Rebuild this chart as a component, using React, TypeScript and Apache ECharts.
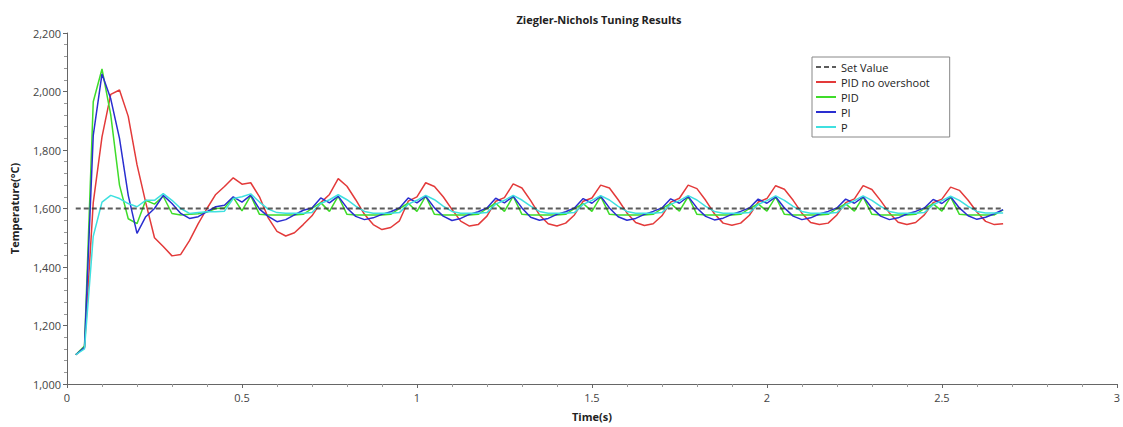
import React, { useEffect, useRef } from "react";
import * as echarts from "echarts";

const TITLE = "Ziegler-Nichols Tuning Results";
const SERIES_NAMES = ["Set Value", "PID no overshoot", "PID", "PI", "P"];
const T_START = 0.025;
const T_STEP = 0.025;

const setTimes = [0.025, 2.675];
const setValues = [1600, 1600];

const pidNoOvershoot = [
  1100, 1125, 1620, 1845, 1990, 2005, 1915, 1750, 1620, 1500,
  1470, 1438, 1443, 1490, 1548, 1600, 1648, 1675, 1705, 1683,
  1688, 1640, 1568, 1522, 1506, 1517, 1545, 1575, 1620, 1648,
  1702, 1676, 1630, 1580, 1545, 1528, 1535, 1558, 1625, 1640,
  1688, 1675, 1640, 1597, 1557, 1540, 1545, 1574, 1625, 1637,
  1684, 1670, 1627, 1578, 1548, 1540, 1550, 1578, 1625, 1636,
  1680, 1670, 1630, 1585, 1552, 1542, 1548, 1575, 1622, 1635,
  1680, 1668, 1628, 1582, 1550, 1543, 1550, 1577, 1622, 1634,
  1678, 1666, 1628, 1584, 1552, 1545, 1550, 1578, 1620, 1633,
  1678, 1665, 1627, 1585, 1553, 1545, 1552, 1578, 1620, 1632,
  1673, 1662, 1628, 1588, 1556, 1545, 1548,
];

const pid = [
  1100, 1130, 1965, 2077, 1920, 1680, 1565, 1548, 1628, 1615,
  1642, 1583, 1578, 1580, 1582, 1588, 1600, 1602, 1638, 1592,
  1644, 1580, 1578, 1578, 1578, 1578, 1580, 1600, 1620, 1590,
  1642, 1580, 1578, 1578, 1578, 1578, 1580, 1600, 1618, 1590,
  1642, 1580, 1578, 1578, 1578, 1578, 1580, 1600, 1618, 1590,
  1642, 1580, 1578, 1578, 1578, 1578, 1580, 1600, 1617, 1590,
  1641, 1580, 1578, 1578, 1578, 1578, 1580, 1600, 1617, 1591,
  1641, 1580, 1578, 1578, 1578, 1578, 1580, 1600, 1616, 1591,
  1640, 1580, 1578, 1578, 1578, 1578, 1580, 1600, 1616, 1591,
  1640, 1580, 1578, 1578, 1578, 1578, 1580, 1600, 1616, 1591,
  1640, 1580, 1578, 1578, 1578, 1578, 1595,
];

const pi = [
  1100, 1125, 1850, 2060, 1975, 1840, 1645, 1515, 1572, 1600,
  1645, 1617, 1583, 1566, 1572, 1589, 1606, 1611, 1640, 1622,
  1646, 1598, 1573, 1555, 1562, 1578, 1594, 1602, 1636, 1619,
  1642, 1602, 1573, 1562, 1568, 1580, 1589, 1602, 1636, 1619,
  1642, 1602, 1574, 1559, 1566, 1580, 1589, 1602, 1635, 1619,
  1642, 1602, 1570, 1560, 1566, 1580, 1589, 1602, 1634, 1618,
  1642, 1602, 1572, 1560, 1566, 1580, 1590, 1602, 1633, 1618,
  1641, 1602, 1573, 1561, 1567, 1580, 1590, 1602, 1632, 1618,
  1640, 1602, 1574, 1562, 1568, 1581, 1590, 1602, 1632, 1618,
  1640, 1602, 1574, 1562, 1568, 1581, 1590, 1602, 1631, 1617,
  1640, 1602, 1575, 1563, 1570, 1582, 1596,
];

const p = [
  1100, 1120, 1505, 1622, 1645, 1634, 1617, 1606, 1628, 1628,
  1651, 1628, 1600, 1583, 1586, 1589, 1589, 1591, 1634, 1640,
  1650, 1622, 1598, 1586, 1584, 1584, 1584, 1586, 1617, 1630,
  1647, 1630, 1608, 1590, 1584, 1584, 1584, 1586, 1615, 1628,
  1645, 1630, 1608, 1590, 1584, 1584, 1584, 1586, 1615, 1628,
  1645, 1629, 1608, 1590, 1584, 1584, 1584, 1586, 1614, 1628,
  1644, 1629, 1607, 1590, 1584, 1584, 1584, 1586, 1614, 1627,
  1644, 1629, 1607, 1590, 1584, 1584, 1584, 1586, 1614, 1627,
  1643, 1628, 1607, 1590, 1584, 1584, 1584, 1586, 1613, 1627,
  1643, 1628, 1607, 1590, 1584, 1584, 1584, 1586, 1613, 1627,
  1642, 1628, 1607, 1590, 1585, 1585, 1585,
];

const xTickInterval = 0.5;
const yTickInterval = 200;

const COLORS = {
  set: "#333333",
  red: "#e33a3a",
  green: "#3fdc2a",
  blue: "#2a2ed0",
  cyan: "#3fe0e0",
};

const FONT = "Open Sans";

function pairs(values: number[]) {
  return values.map((v, i) => [+(T_START + i * T_STEP).toFixed(3), v]);
}

export default function App() {
  const ref = useRef<HTMLDivElement>(null);
  useEffect(() => {
    if (!ref.current) return;
    const chart = echarts.init(ref.current, undefined, { renderer: "svg" });
    const lineSeries = (name: string, values: number[], color: string, z: number) => ({
      name,
      type: "line",
      data: pairs(values),
      symbol: "none",
      z,
      lineStyle: { color, width: 1.5 },
      itemStyle: { color },
    });
    chart.setOption({
      animation: false,
      backgroundColor: "#ffffff",
      textStyle: { fontFamily: FONT },
      title: {
        text: TITLE,
        left: 594,
        top: 9,
        textAlign: "center",
        textStyle: { fontSize: 11, fontWeight: "bold", color: "#222", fontFamily: FONT },
      },
      legend: {
        data: SERIES_NAMES,
        orient: "vertical",
        left: 812,
        top: 57,
        padding: [4, 20, 4, 3],
        itemGap: 3,
        itemWidth: 20,
        itemHeight: 10,
        itemStyle: { opacity: 0 },
        borderColor: "#888",
        borderWidth: 1,
        textStyle: { fontSize: 11, color: "#222", fontFamily: FONT, lineHeight: 12 },
      },
      grid: { left: 67, right: 5, top: 33, bottom: 42, containLabel: false },
      xAxis: {
        type: "value",
        min: 0,
        max: 3,
        interval: xTickInterval,
        name: "Time(s)",
        nameLocation: "middle",
        nameGap: 27,
        nameTextStyle: { fontSize: 11, fontWeight: "bold", color: "#222", fontFamily: FONT },
        axisLine: { lineStyle: { color: "#666" } },
        axisTick: { length: 4, lineStyle: { color: "#666" } },
        minorTick: { show: true, splitNumber: 5, length: 3, lineStyle: { color: "#999" } },
        splitLine: { show: false },
        axisLabel: { fontSize: 11, color: "#444", margin: 8, fontFamily: FONT },
      },
      yAxis: {
        type: "value",
        min: 1000,
        max: 2200,
        interval: yTickInterval,
        name: "Temperature(°C)",
        nameLocation: "middle",
        nameGap: 47,
        nameTextStyle: { fontSize: 11, fontWeight: "bold", color: "#222", fontFamily: FONT },
        axisLine: { show: true, lineStyle: { color: "#666" } },
        axisTick: { show: true, length: 4, lineStyle: { color: "#666" } },
        minorTick: { show: true, splitNumber: 5, length: 3, lineStyle: { color: "#999" } },
        splitLine: { show: false },
        axisLabel: {
          fontSize: 11,
          color: "#444",
          margin: 6,
          fontFamily: FONT,
          formatter: (v: number) => v.toLocaleString("en-US"),
        },
      },
      series: [
        {
          name: SERIES_NAMES[0],
          type: "line",
          data: setTimes.map((t, i) => [t, setValues[i]]),
          symbol: "none",
          z: 10,
          lineStyle: { color: COLORS.set, width: 2, type: [5, 3], opacity: 0.8 },
          itemStyle: { color: COLORS.set },
        },
        lineSeries(SERIES_NAMES[1], pidNoOvershoot, COLORS.red, 2),
        lineSeries(SERIES_NAMES[2], pid, COLORS.green, 3),
        lineSeries(SERIES_NAMES[3], pi, COLORS.blue, 4),
        lineSeries(SERIES_NAMES[4], p, COLORS.cyan, 5),
      ],
    });
    return () => chart.dispose();
  }, []);
  return (
    <div
      ref={ref}
      style={{ position: "fixed", left: 0, top: 0, width: 1123, height: 427, background: "#fff" }}
    />
  );
}
